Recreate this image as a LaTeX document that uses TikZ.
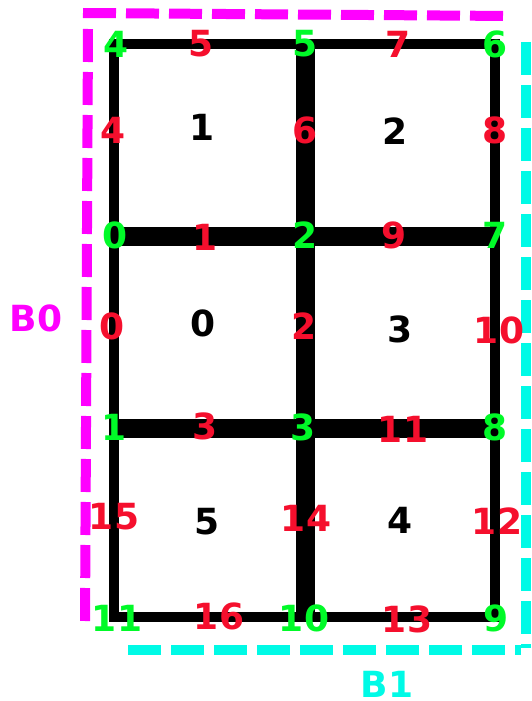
\documentclass[tikz,border=0pt]{standalone}
\usepackage{fontspec}
\setmainfont{DejaVu Sans}
\definecolor{vgreen}{RGB}{0,250,40}
\definecolor{ered}{RGB}{245,15,45}
\definecolor{bmag}{RGB}{255,0,255}
\definecolor{bcyan}{RGB}{0,250,230}
\tikzset{
  thinedge/.style={line width=10pt, line cap=rect, draw=black},
  thickedge/.style={line width=19pt, line cap=butt, draw=black},
  lab/.style={inner sep=0pt, font=\fontsize{36}{36}\selectfont\bfseries},
  vlab/.style={lab, text=vgreen},
  elab/.style={lab, text=ered},
  clab/.style={lab, text=black},
  bmagline/.style={draw=bmag, line width=10pt, dash pattern=on 33pt off 10pt},
  bcyanline/.style={draw=bcyan, line width=10pt, dash pattern=on 33pt off 10pt},
}
\begin{document}
\begin{tikzpicture}[x=1pt,y=-1pt]
\useasboundingbox[fill=white] (0,0) rectangle (531,701);
% vertices
\coordinate (v4) at (114,44);
\coordinate (v5) at (305,44);
\coordinate (v6) at (495,44);
\coordinate (v0) at (114,236);
\coordinate (v2) at (305,236);
\coordinate (v7) at (495,236);
\coordinate (v1) at (114,428);
\coordinate (v3) at (305,428);
\coordinate (v8) at (495,428);
\coordinate (v11) at (114,617);
\coordinate (v10) at (305,617);
\coordinate (v9) at (495,617);
% thick edges
\draw[thickedge] (v5) -- (v2);
\draw[thickedge] (v2) -- (v3);
\draw[thickedge] (v3) -- (v10);
\draw[thickedge] (v0) -- (v2);
\draw[thickedge] (v2) -- (v7);
\draw[thickedge] (v1) -- (v3);
\draw[thickedge] (v3) -- (v8);
% thin edges
\draw[thinedge] (v4) -- (v5);
\draw[thinedge] (v5) -- (v6);
\draw[thinedge] (v4) -- (v0);
\draw[thinedge] (v0) -- (v1);
\draw[thinedge] (v1) -- (v11);
\draw[thinedge] (v6) -- (v7);
\draw[thinedge] (v7) -- (v8);
\draw[thinedge] (v8) -- (v9);
\draw[thinedge] (v11) -- (v10);
\draw[thinedge] (v10) -- (v9);
% dashed boundaries
\coordinate (m1) at (511,16);
\coordinate (m2) at (83,13);
\coordinate (m2b) at (88,29);
\coordinate (m3) at (85,626);
\draw[bmagline] (m2) -- (m1);
\draw[bmagline] (m2b) -- (m3);
\coordinate (c1) at (526,42);
\coordinate (c2) at (526,648);
\coordinate (c3) at (128,650);
\coordinate (c4) at (521,650);
\draw[bcyanline] (c1) -- (c2);
\draw[bcyanline] (c3) -- (c4);
% vertex labels
\node[vlab] (n4) at (116,44) {4};
\node[vlab] (n5) at (305,44) {5};
\node[vlab] (n6) at (495,44) {6};
\node[vlab] (n0) at (115,235) {0};
\node[vlab] (n2) at (305,235) {2};
\node[vlab] (n7) at (495,235) {7};
\node[vlab] (n1) at (114,427) {1};
\node[vlab] (n3) at (303,427) {3};
\node[vlab] (n8) at (495,427) {8};
\node[vlab] (n11) at (117,618) {11};
\node[vlab] (n10) at (304,618) {10};
\node[vlab] (n9) at (496,618) {9};
% edge labels
\node[elab] (e5) at (201,44) {5};
\node[elab] (e7) at (398,44) {7};
\node[elab] (e4) at (113,130) {4};
\node[elab] (e6) at (305,130) {6};
\node[elab] (e8) at (495,130) {8};
\node[elab] (e1) at (205,237) {1};
\node[elab] (e9) at (394,235) {9};
\node[elab] (e0) at (112,326) {0};
\node[elab] (e2) at (304,326) {2};
\node[elab] (e10) at (499,330) {10};
\node[elab] (e3) at (205,426) {3};
\node[elab] (e11) at (403,429) {11};
\node[elab] (e15) at (114,517) {15};
\node[elab] (e14) at (306,518) {14};
\node[elab] (e12) at (497,521) {12};
\node[elab] (e16) at (219,616) {16};
\node[elab] (e13) at (407,619) {13};
% cell labels
\node[clab] (f1) at (202,127) {1};
\node[clab] (f2) at (395,131) {2};
\node[clab] (f0) at (203,323) {0};
\node[clab] (f3) at (400,329) {3};
\node[clab] (f5) at (207,522) {5};
\node[clab] (f4) at (400,520) {4};
% block labels
\node[lab, text=bmag] (b0) at (36,318) {B0};
\node[lab, text=bcyan] (b1) at (387,684) {B1};
\end{tikzpicture}
\end{document}
